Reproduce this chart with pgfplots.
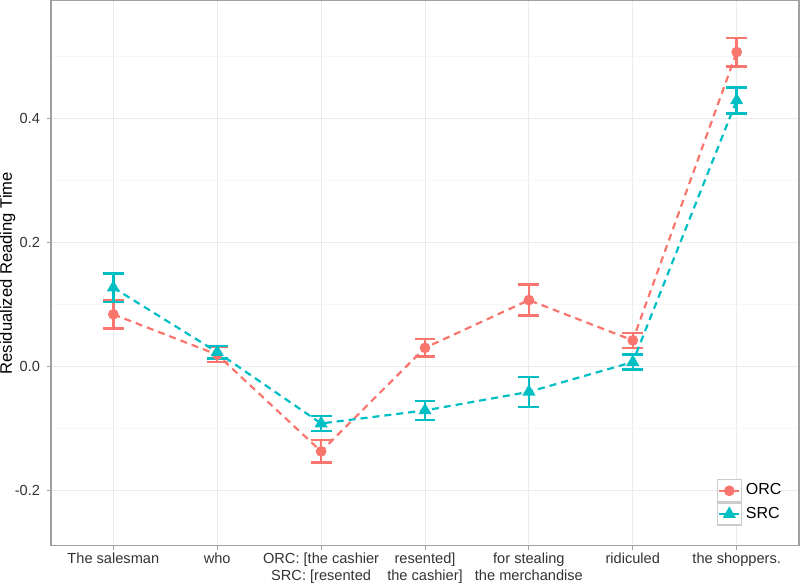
\documentclass[border=0pt]{standalone}
\usepackage{pgfplots}
\pgfplotsset{compat=1.18}
\usepackage{pgfplotstable}
\usepackage{fontspec}
\setmainfont{Liberation Sans}
\usetikzlibrary{calc}

\definecolor{orc}{HTML}{F8766D}
\definecolor{src}{HTML}{00BFC4}
\definecolor{gridmaj}{HTML}{EBEBEB}
\definecolor{gridmin}{HTML}{F7F7F7}
\definecolor{frame}{HTML}{A0A0A0}

% position, mean, half width of the error bar
\pgfplotstableread{
x y err
1 0.084 0.023
2 0.019 0.012
3 -0.137 0.018
4 0.030 0.014
5 0.107 0.025
6 0.042 0.012
7 0.507 0.023
}\orcdata

\pgfplotstableread{
x y err
1 0.127 0.023
2 0.023 0.010
3 -0.092 0.012
4 -0.071 0.015
5 -0.041 0.024
6 0.007 0.012
7 0.429 0.021
}\srcdata

\begin{document}
\begin{tikzpicture}
\begin{axis}[
    name=ax,
    scale only axis,
    width=374pt, height=272.5pt,
    xmin=0.4, xmax=7.6,
    ymin=-0.289, ymax=0.590,
    xtick={1,2,3,4,5,6,7},
    xticklabels={The salesman, who, {ORC: [the cashier\\SRC: [resented}, {resented]\\the cashier]}, {for stealing\\the merchandise}, ridiculed, the shoppers.},
    xticklabel style={align=center, font=\fontsize{7.3}{8.2}\selectfont, text=black!80, yshift=1.8pt},
    ytick={-0.2,0,0.2,0.4},
    yticklabels={-0.2,0.0,0.2,0.4},
    minor ytick={-0.1,0.1,0.3,0.5},
    yticklabel style={font=\fontsize{7.3}{8.2}\selectfont, text=black!80},
    grid=both,
    major grid style={gridmaj, line width=0.5pt},
    minor grid style={gridmin, line width=0.5pt},
    axis line style={frame, line width=0.6pt},
    tick style={frame, line width=0.5pt},
    tick align=outside,
    major tick length=2pt,
    minor tick length=0pt,
    xtick pos=bottom, ytick pos=left,
    ylabel={Residualized Reading Time},
    ylabel style={at={(rel axis cs:-0.058,0.5)}, anchor=center, font=\fontsize{8.3}{10}\selectfont},
    legend style={at={(0.890,0.0367)}, anchor=south west, draw=none, fill=white,
        inner sep=0pt, outer sep=0pt, column sep=2pt,
        nodes={inner sep=0pt, font=\fontsize{8}{9}\selectfont}},
    legend cell align=left,
    legend image code/.code={
        \draw[black!20, fill=white, solid, line width=0.6pt] (0pt,-5.5pt) rectangle (12pt,5.5pt);
        \draw[mark repeat=2, mark phase=2, #1, solid] plot coordinates {(1pt,0pt) (6pt,0pt) (11pt,0pt)};
    },
]
\addplot[orc, line width=1.1pt, dash pattern=on 3.5pt off 2.5pt,
    mark=*, mark size=2.1pt, mark options={solid, fill=orc},
    error bars/.cd, y dir=both, y explicit,
    error bar style={solid, line width=1.2pt, orc},
    error mark options={rotate=90, mark size=5.2pt, line width=1.2pt, orc}]
    table[x=x, y=y, y error=err] {\orcdata};
\addlegendentry{ORC}
\addplot[src, line width=1.1pt, dash pattern=on 3.5pt off 2.5pt,
    mark=triangle*, mark size=2.7pt, mark options={solid, fill=src},
    error bars/.cd, y dir=both, y explicit,
    error bar style={solid, line width=1.2pt, src},
    error mark options={rotate=90, mark size=5.2pt, line width=1.2pt, src}]
    table[x=x, y=y, y error=err] {\srcdata};
\addlegendentry{SRC}
\end{axis}
\pgfresetboundingbox
\path ($(ax.south west)+(-25.5pt,-20pt)$) rectangle ($(ax.north east)+(0.5pt,0.3pt)$);
\end{tikzpicture}
\end{document}
